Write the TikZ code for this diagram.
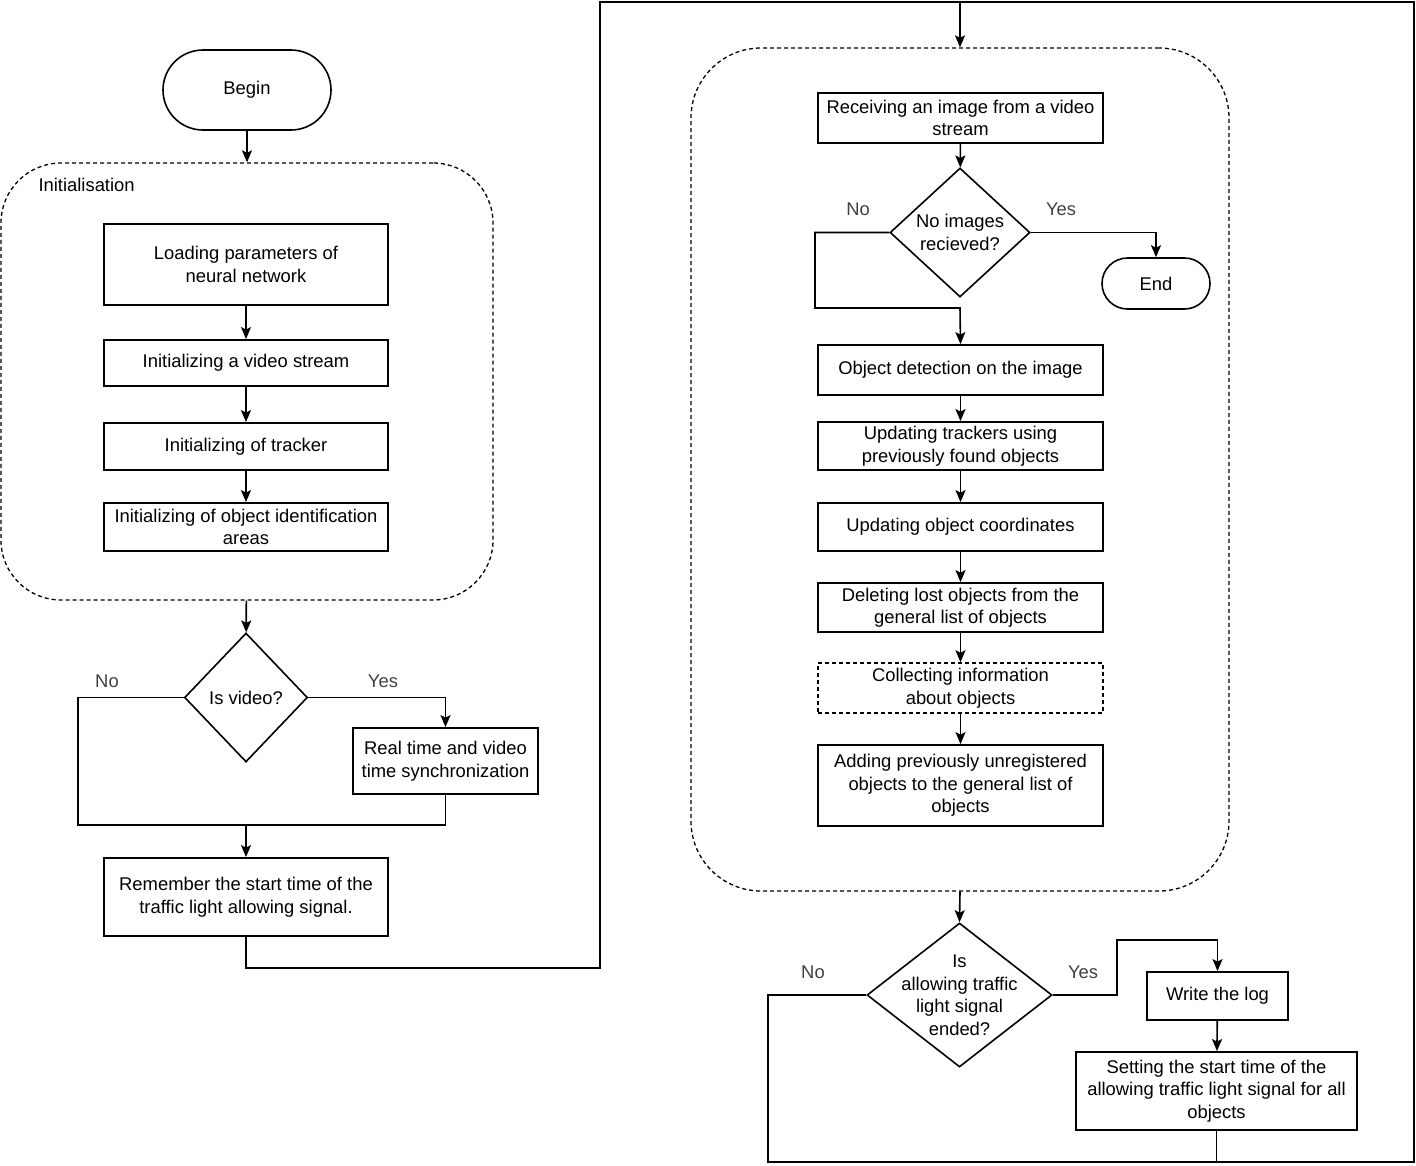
\documentclass[tikz,border=0pt]{standalone}
\usepackage{fontspec}
\setmainfont{Liberation Sans}
\usetikzlibrary{shapes.geometric,arrows.meta}
\newcommand{\flowfont}{\fontsize{18.4}{22.5}\selectfont}
\definecolor{answer}{RGB}{64,64,64}

\begin{document}
\begin{tikzpicture}[x=1pt,y=-1pt,
        procbox/.style={draw,line width=1.8pt,rectangle,align=center,inner sep=0pt,font=\flowfont,minimum width=284pt},
        terminal/.style={draw,line width=1.6pt,rectangle,align=center,font=\flowfont},
        decision/.style={draw,line width=1.6pt,diamond,align=center,inner sep=0pt,font=\flowfont},
        groupbox/.style={draw,line width=1.3pt,dash pattern=on 4pt off 3pt,rectangle},
        conn/.style={line width=1.6pt},
        flow/.style={conn,-{Stealth[length=12pt,width=10pt,inset=2.5pt]}},
        answer/.style={text=answer,font=\flowfont}]
        \useasboundingbox (0,0) rectangle (1416,1165);

        % left column: start and initialisation
        \node[terminal,minimum width=168pt,minimum height=80pt,rounded corners=40pt] (begin) at (247,90) {Begin};
        \node[groupbox,minimum width=492pt,minimum height=437pt,rounded corners=60pt] (init) at (247,381.5) {};
        \node[anchor=west,font=\flowfont] (initlabel) at (35,185) {Initialisation};
        \node[procbox,minimum height=81pt] (load) at (246,264.5) {Loading parameters of\\neural network};
        \node[procbox,minimum height=46pt] (vstream) at (246,363) {Initializing a video stream};
        \node[procbox,minimum height=47pt] (tracker) at (246,446.5) {Initializing of tracker};
        \node[procbox,minimum height=48pt] (areas) at (246,527) {Initializing of object identification\\areas};

        \node[decision,minimum width=123pt,minimum height=129pt] (isvideo) at (246,697.5) {Is video?};
        \node[procbox,minimum width=185pt,minimum height=66pt] (sync) at (445.5,761) {Real time and video\\time synchronization};
        \node[procbox,minimum height=78pt] (remember) at (246,897) {Remember the start time of the\\traffic light allowing signal.};
        \coordinate (vjoin) at (246,825);
        \node[answer] (novideo) at (107,681) {No};
        \node[answer] (yesvideo) at (383,681) {Yes};

        % right column: processing loop
        \coordinate (top) at (960,2);
        \node[groupbox,minimum width=538pt,minimum height=843pt,rounded corners=70pt] (loop) at (960,469.5) {};
        \node[procbox,minimum width=285pt,minimum height=50pt] (receive) at (960.5,118) {Receiving an image from a video\\stream};
        \node[decision,minimum width=140pt,minimum height=129pt] (noimg) at (960,232.5) {No images\\recieved?};
        \node[terminal,minimum width=108pt,minimum height=51pt,rounded corners=25.5pt] (end) at (1156,283.5) {End};
        \node[answer] (noimgno) at (858,209) {No};
        \node[answer] (noimgyes) at (1061,209) {Yes};
        \coordinate (nojoin) at (960,308);
        \node[procbox,minimum width=285pt,minimum height=50pt] (detect) at (960.5,370) {Object detection on the image};
        \node[procbox,minimum width=285pt,minimum height=48pt] (trackers) at (960.5,446) {Updating trackers using\\previously found objects};
        \node[procbox,minimum width=285pt,minimum height=48pt] (coords) at (960.5,527) {Updating object coordinates};
        \node[procbox,minimum width=285pt,minimum height=49pt] (delete) at (960.5,607.5) {Deleting lost objects from the\\general list of objects};
        \node[procbox,dash pattern=on 4pt off 3pt,line width=1.5pt,minimum width=285pt,minimum height=50pt] (collect) at (960.5,688) {Collecting information\\about objects};
        \node[procbox,minimum width=285pt,minimum height=81pt] (addnew) at (960.5,785.5) {Adding previously unregistered\\objects to the general list of\\objects};

        \node[decision,minimum width=185pt,minimum height=144pt] (ended) at (959.5,995) {};
        \node[align=center,font=\flowfont] (endedtext) at (ended) {Is\\allowing traffic\\light signal\\ended?};
        \node[answer] (endedno) at (813,972) {No};
        \node[answer] (endedyes) at (1083,972) {Yes};
        \node[procbox,minimum width=141pt,minimum height=48pt] (writelog) at (1217.5,996) {Write the log};
        \node[procbox,minimum width=281pt,minimum height=78pt] (setstart) at (1216.5,1091) {Setting the start time of the\\allowing traffic light signal for all\\objects};

        % connectors
        \draw[flow] (begin) -- (init);
        \draw[flow] (load) -- (vstream);
        \draw[flow] (vstream) -- (tracker);
        \draw[flow] (tracker) -- (areas);
        \draw[flow] (init) -- (isvideo);
        \draw[flow] (isvideo.east) -| (sync.north);
        \draw[conn] (isvideo.west) -| (78,825) -- (vjoin);
        \draw[conn] (sync.south) |- (vjoin);
        \draw[flow] (vjoin) -- (remember);
        \draw[flow] (remember.south) |- (600,968) -- (600,2) -- (top) -- (loop.north);

        \draw[flow] (receive) -- (noimg);
        \draw[flow] (noimg.east) -| (end.north);
        \draw[flow] (noimg.west) -| (815,308) -- (nojoin) -- (detect.north);
        \draw[flow] (detect) -- (trackers);
        \draw[flow] (trackers) -- (coords);
        \draw[flow] (coords) -- (delete);
        \draw[flow] (delete) -- (collect);
        \draw[flow] (collect) -- (addnew);

        \draw[flow] (loop.south) -- (ended.north);
        \draw[flow] (ended.east) -| (1117,940) -| (writelog.north);
        \draw[flow] (writelog) -- (setstart);
        \draw[conn] (setstart.south) -- (setstart.south |- 0,1162);
        \draw[conn] (ended.west) -| (768,1162) -| (1414,2) -- (top);
    \end{tikzpicture}
\end{document}
